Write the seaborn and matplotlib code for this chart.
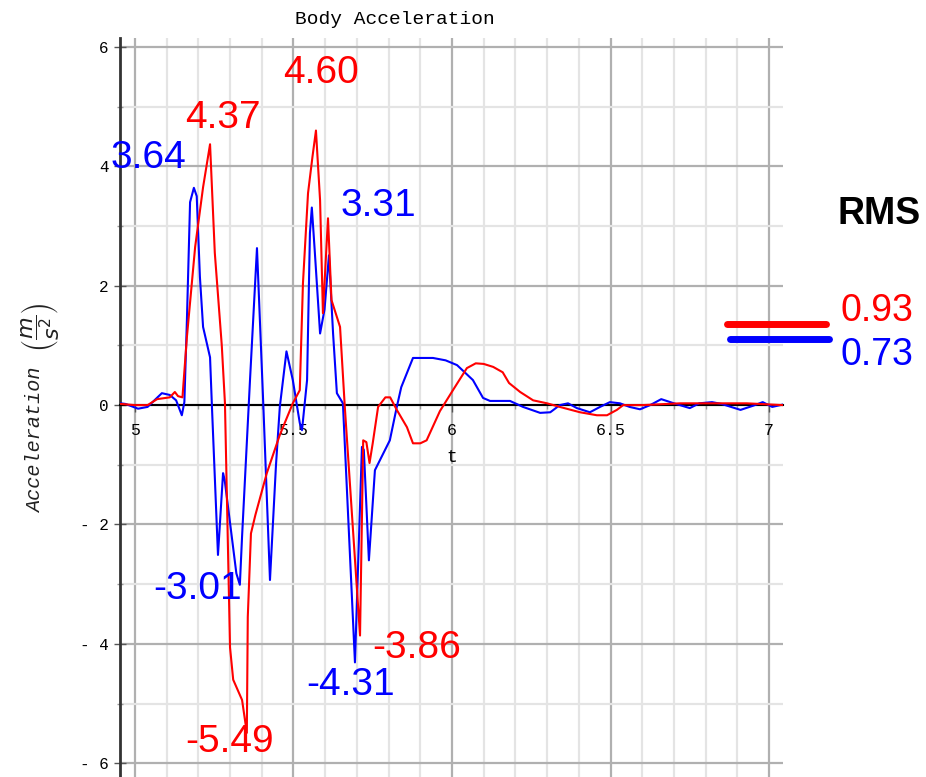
import numpy as np
import pandas as pd
import matplotlib
matplotlib.use("Agg")
import matplotlib.pyplot as plt
from matplotlib.lines import Line2D
from matplotlib.ticker import MultipleLocator
import seaborn as sns

# ---------------- data ----------------
t_blue = [4.955, 4.97, 5.01, 5.04, 5.085, 5.11, 5.13, 5.148, 5.156, 5.164, 5.174,
          5.186, 5.195, 5.205, 5.215, 5.237, 5.243, 5.262, 5.278, 5.283, 5.32, 5.331,
          5.338, 5.363, 5.385, 5.405, 5.426, 5.445, 5.457, 5.478, 5.498, 5.52, 5.527,
          5.543, 5.552, 5.558, 5.567, 5.584, 5.598, 5.612, 5.625, 5.637, 5.656, 5.694,
          5.716, 5.722, 5.738, 5.757, 5.804, 5.826, 5.84, 5.877, 5.94, 5.98, 6.016,
          6.066, 6.098, 6.12, 6.183, 6.224, 6.278, 6.31, 6.34, 6.366, 6.394, 6.435,
          6.467, 6.498, 6.53, 6.56, 6.593, 6.625, 6.66, 6.70, 6.75, 6.78, 6.82, 6.85,
          6.91, 6.95, 6.98, 7.01, 7.044]
a_blue = [0.03, 0.02, -0.06, -0.03, 0.2, 0.17, 0.08, -0.17, 0.05, 1.42, 3.4,
          3.64, 3.5, 2.15, 1.31, 0.8, -0.03, -2.51, -1.14, -1.25, -2.82, -3.01,
          -2.2, 0.42, 2.63, 0.0, -2.93, -1.0, -0.03, 0.9, 0.42, -0.3, -0.42,
          0.42, 2.88, 3.31, 2.6, 1.2, 1.6, 2.51, 1.2, 0.2, 0.03, -4.31,
          -0.7, -0.75, -2.6, -1.09, -0.59, -0.03, 0.3, 0.79, 0.79, 0.75, 0.67,
          0.42, 0.12, 0.07, 0.07, -0.03, -0.13, -0.12, 0.0, 0.03, -0.05, -0.12,
          -0.03, 0.05, 0.03, -0.03, -0.07, 0.0, 0.1, 0.03, -0.05, 0.03, 0.05, 0.02,
          -0.08, -0.01, 0.05, -0.03, 0.01]

t_red = [4.955, 5.0, 5.04, 5.07, 5.11, 5.126, 5.136, 5.15, 5.164, 5.19, 5.215,
         5.237, 5.252, 5.274, 5.284, 5.30, 5.31, 5.338, 5.353, 5.356, 5.366, 5.38,
         5.416, 5.457, 5.498, 5.52, 5.53, 5.546, 5.56, 5.571, 5.584, 5.593, 5.609,
         5.62, 5.647, 5.662, 5.71, 5.72, 5.73, 5.74, 5.75, 5.767, 5.79, 5.805,
         5.826, 5.858, 5.877, 5.9, 5.92, 5.962, 6.003, 6.047, 6.075, 6.10, 6.13,
         6.16, 6.18, 6.215, 6.256, 6.30, 6.34, 6.404, 6.457, 6.489, 6.52, 6.54,
         6.6, 6.72, 6.82, 6.93, 7.044]
a_red = [0.02, 0.0, 0.0, 0.1, 0.13, 0.22, 0.15, 0.13, 1.14, 2.65, 3.65,
         4.37, 2.55, 1.0, 0.03, -4.06, -4.6, -4.94, -5.49, -3.55, -2.15, -1.84,
         -1.14, -0.5, 0.03, 0.25, 2.04, 3.55, 4.16, 4.60, 3.43, 1.54, 3.13,
         1.76, 1.31, -0.03, -3.86, -0.59, -0.62, -0.97, -0.64, -0.03, 0.13, 0.13,
         -0.08, -0.37, -0.64, -0.64, -0.59, -0.1, 0.25, 0.62, 0.7, 0.69, 0.64,
         0.55, 0.37, 0.22, 0.08, 0.03, -0.03, -0.12, -0.17, -0.17, -0.08, 0.0,
         0.0, 0.03, 0.03, 0.03, 0.0]

annot_text = ["3.64", "4.37", "4.60", "3.31", "-3.01", "-5.49", "-4.31", "-3.86"]
annot_series = ["blue", "red", "red", "blue", "blue", "red", "blue", "red"]
annot_x = [5.044, 5.278, 5.587, 5.767, 5.199, 5.300, 5.681, 5.890]
annot_y = [4.14, 4.81, 5.56, 3.34, -3.08, -5.65, -4.69, -4.07]

rms_series = ["red", "blue"]
rms_values = [0.93, 0.73]

xtick_vals = [5, 5.5, 6, 6.5, 7]
xtick_labels = ["5", "5.5", "6", "6.5", "7"]
ytick_vals = [-6, -4, -2, 0, 2, 4, 6]
ytick_labels = ["- 6", "- 4", "- 2", "0", "2", "4", "6"]

colors = {"blue": "#0000ff", "red": "#ff0000"}

df = pd.concat([
    pd.DataFrame({"t": t_blue, "acc": a_blue, "series": "blue"}),
    pd.DataFrame({"t": t_red, "acc": a_red, "series": "red"}),
], ignore_index=True)

# ---------------- figure ----------------
sns.set_style("white")
plt.rcParams["font.family"] = ["Liberation Sans", "DejaVu Sans"]
plt.rcParams["text.color"] = "black"

fig = plt.figure(figsize=(9.26, 7.77), dpi=100)
ax = fig.add_axes([120 / 926, 0, 663 / 926, 739 / 777])

sns.lineplot(data=df, x="t", y="acc", hue="series", palette=colors,
             hue_order=["blue", "red"], estimator=None, sort=False,
             linewidth=1.5, legend=False, ax=ax, zorder=3)

ax.set_xlim(4.953, 7.044)
ax.set_ylim(-6.23, 6.15)

ax.xaxis.set_minor_locator(MultipleLocator(0.1))
ax.yaxis.set_minor_locator(MultipleLocator(1))
ax.set_xticks(xtick_vals, labels=xtick_labels)
ax.set_yticks(ytick_vals, labels=ytick_labels)
ax.set_axisbelow(True)
ax.grid(which="major", color="#b0b0b0", linewidth=1.6)
ax.grid(which="minor", color="#e4e4e4", linewidth=1.6)

for s in ["top", "right"]:
    ax.spines[s].set_visible(False)
ax.spines["bottom"].set_position(("data", 0))
ax.spines["bottom"].set_color("black")
ax.spines["bottom"].set_linewidth(1.5)
ax.spines["bottom"].set_zorder(2.5)
ax.spines["left"].set_color("#333333")
ax.spines["left"].set_linewidth(2)

mono = ["Liberation Mono", "DejaVu Sans Mono"]
ax.tick_params(axis="x", which="major", direction="out", length=5, width=1,
               color="#555555", pad=8, labelsize=12, labelcolor="black", bottom=True)
ax.tick_params(axis="x", which="minor", direction="out", length=3, width=1,
               color="#999999", bottom=True)
ax.tick_params(axis="y", which="major", direction="inout", length=8, width=1,
               color="#555555", pad=4, labelsize=11.5, labelcolor="black", left=True)
ax.tick_params(axis="y", which="minor", direction="inout", length=5, width=1,
               color="#999999", left=True)
for lab in ax.get_xticklabels() + ax.get_yticklabels():
    lab.set_family(mono)

ax.set_xlabel("t", family=mono, fontsize=13, labelpad=8, color="black")
ax.set_ylabel("")

fig.text(395 / 926, 1 - 20 / 777, "Body Acceleration", family=mono,
         fontsize=14, ha="center", va="center")
fig.text(36 / 926, 1 - 440 / 777, "Acceleration", family=mono, style="italic",
         rotation=90, ha="center", va="center", fontsize=14.5, color="#222222")
fig.text(41 / 926, 1 - 327 / 777, r"$\left(\dfrac{m}{s^2}\right)$",
         rotation=90, ha="center", va="center", fontsize=16, color="#222222")

for txt, ser, x, y in zip(annot_text, annot_series, annot_x, annot_y):
    ax.text(x, y, txt, color=colors[ser], fontsize=28, ha="center",
            va="center", zorder=5, clip_on=False)

# RMS block
fig.text(838 / 926, 1 - 214 / 777, "RMS", fontsize=27, fontweight="bold",
         ha="left", va="center", color="black")
rms_text_y = [311, 355]
rms_line_y = [324, 339]
rms_line_x = [(727, 826), (730, 829)]
for ser, val, ty, ly, lx in zip(rms_series, rms_values, rms_text_y, rms_line_y, rms_line_x):
    fig.text(840 / 926, 1 - ty / 777, f"{val:.2f}", color=colors[ser],
             fontsize=27, ha="left", va="center")
    fig.add_artist(Line2D([lx[0] / 926, lx[1] / 926], [1 - ly / 777] * 2,
                          color=colors[ser], linewidth=5,
                          transform=fig.transFigure))

fig.savefig("out.png", dpi=100)
